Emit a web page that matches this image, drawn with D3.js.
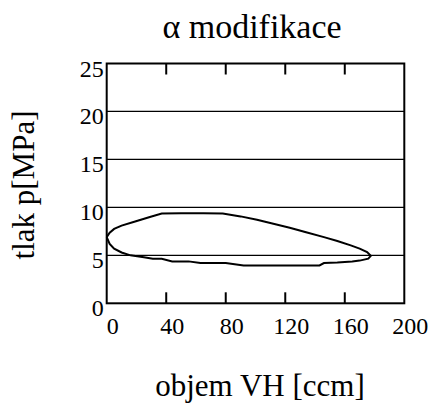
<!DOCTYPE html>
<html>
<head>
<meta charset="utf-8">
<script src="https://cdn.jsdelivr.net/npm/d3@7"></script>
<style>
  body { margin: 0; background: #fff; }
  text { font-family: "Liberation Serif", "Times New Roman", serif; fill: #000; }
</style>
</head>
<body>
<div id="chart"></div>
<script>
// p-V smycka, alfa modifikace
let xTicks = [0, 40, 80, 120, 160, 200];
let yTicks = [0, 5, 10, 15, 20, 25];

// horni vetev (zleva doprava)
let upperVolume = [0, 2, 5, 10, 18, 29, 37, 50, 65, 78, 90, 101, 112, 123, 134, 146, 155, 164, 170, 175, 177.5];
let upperPressure = [6.9, 7.35, 7.75, 8.1, 8.47, 9.0, 9.35, 9.38, 9.38, 9.35, 9.06, 8.7, 8.3, 7.88, 7.4, 6.9, 6.5, 6.04, 5.7, 5.35, 4.95];

// dolni vetev (zprava doleva)
let lowerVolume = [177.5, 175.8, 170, 165, 155, 146, 143, 120, 92, 80, 63, 55, 44, 37, 31, 25, 16, 10, 5, 2, 0];
let lowerPressure = [4.95, 4.65, 4.45, 4.37, 4.25, 4.2, 3.95, 3.93, 3.93, 4.2, 4.2, 4.37, 4.37, 4.65, 4.65, 4.8, 5.0, 5.3, 5.7, 6.2, 6.9];

let svgWidth = 433;
let svgHeight = 405;

let plotLeft = 106.7, plotRight = 404.3, plotTop = 63.5, plotBottom = 303.3;

let svg = d3.select("#chart")
  .append("svg")
  .attr("width", svgWidth)
  .attr("height", svgHeight);

let xScale = d3.scaleLinear().domain([0, 200]).range([plotLeft, plotRight]);
let yScale = d3.scaleLinear().domain([0, 25]).range([plotBottom, plotTop]);

// gridlines
svg.selectAll(".grid")
  .data(yTicks.filter(d => d > 0 && d < 25))
  .enter()
  .append("line")
  .attr("class", "grid")
  .attr("x1", plotLeft)
  .attr("x2", plotRight)
  .attr("y1", d => yScale(d))
  .attr("y2", d => yScale(d))
  .attr("stroke", "#000")
  .attr("stroke-width", 1.3);

// inner ticks, top and bottom
let innerX = xTicks.filter(d => d > 0 && d < 200);
svg.selectAll(".tickB")
  .data(innerX)
  .enter()
  .append("line")
  .attr("x1", d => xScale(d))
  .attr("x2", d => xScale(d))
  .attr("y1", plotBottom)
  .attr("y2", plotBottom - 11)
  .attr("stroke", "#000")
  .attr("stroke-width", 2);
svg.selectAll(".tickT")
  .data(innerX)
  .enter()
  .append("line")
  .attr("x1", d => xScale(d))
  .attr("x2", d => xScale(d))
  .attr("y1", plotTop)
  .attr("y2", plotTop + 11)
  .attr("stroke", "#000")
  .attr("stroke-width", 2);

// frame
svg.append("rect")
  .attr("x", plotLeft)
  .attr("y", plotTop)
  .attr("width", plotRight - plotLeft)
  .attr("height", plotBottom - plotTop)
  .attr("fill", "none")
  .attr("stroke", "#000")
  .attr("stroke-width", 2);

// loop
let loop = upperVolume.map((v, i) => [v, upperPressure[i]])
  .concat(lowerVolume.map((v, i) => [v, lowerPressure[i]]));

let line = d3.line()
  .x(d => xScale(d[0]))
  .y(d => yScale(d[1]));

svg.append("path")
  .datum(loop)
  .attr("d", line)
  .attr("fill", "none")
  .attr("stroke", "#000")
  .attr("stroke-width", 2);

// tick labels
svg.selectAll(".ylab")
  .data(yTicks)
  .enter()
  .append("text")
  .attr("x", plotLeft - 3)
  .attr("y", d => yScale(d) + 13)
  .attr("text-anchor", "end")
  .style("font-size", "24px")
  .text(d => d);

svg.selectAll(".xlab")
  .data(xTicks)
  .enter()
  .append("text")
  .attr("x", d => xScale(d) + 6)
  .attr("y", 334)
  .attr("text-anchor", "middle")
  .style("font-size", "24px")
  .text(d => d);

// titles
svg.append("text")
  .attr("x", 252)
  .attr("y", 38)
  .attr("text-anchor", "middle")
  .style("font-size", "34px")
  .text("α modifikace");

svg.append("text")
  .attr("x", 260)
  .attr("y", 396)
  .attr("text-anchor", "middle")
  .style("font-size", "31px")
  .text("objem VH [ccm]");

svg.append("text")
  .attr("transform", "translate(34," + 185 + ") rotate(-90)")
  .attr("text-anchor", "middle")
  .style("font-size", "31px")
  .text("tlak p[MPa]");
</script>
</body>
</html>
